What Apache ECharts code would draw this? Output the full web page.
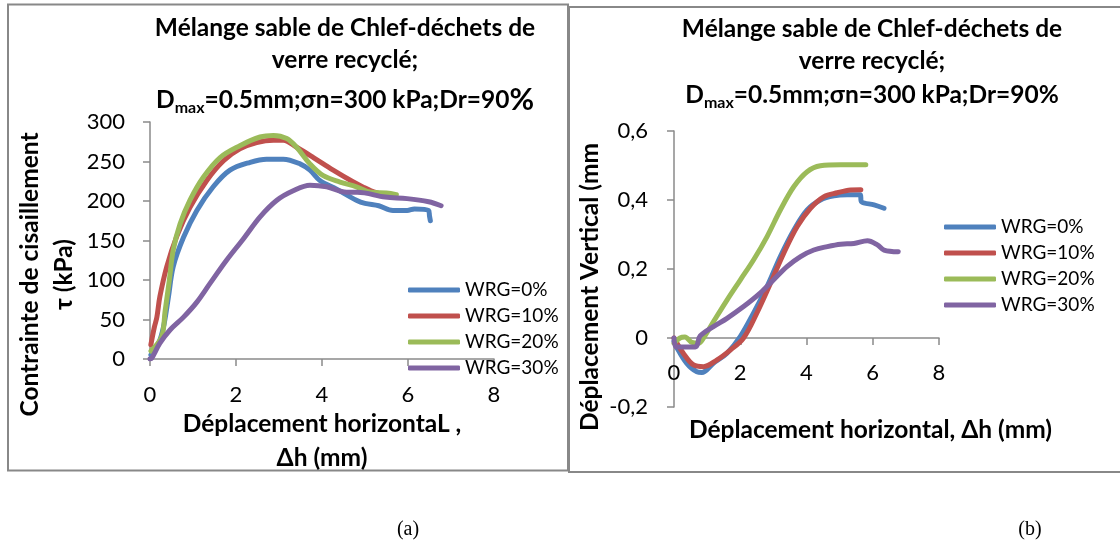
<!DOCTYPE html>
<html>
<head>
<meta charset="utf-8">
<script src="https://cdn.jsdelivr.net/npm/echarts@6/dist/echarts.min.js"></script>
<style>
html,body{margin:0;padding:0;background:#fff;}
#chart{width:1120px;height:546px;}
</style>
</head>
<body>
<div id="chart"></div>
<script>
// ---------- DATA ----------
const seriesNames = ['WRG=0%', 'WRG=10%', 'WRG=20%', 'WRG=30%'];
const xTicks = [0, 2, 4, 6, 8];
const tauTicks = [0, 50, 100, 150, 200, 250, 300];
const dvTicks = [-0.2, 0, 0.2, 0.4, 0.6];

// (a) shear stress tau (kPa) vs horizontal displacement (mm)
const tau_WRG0 = [[0.02,5],[0.08,7],[0.23,24],[0.33,45],[0.43,79],[0.54,117],[0.78,154],[1.09,188],[1.47,218],[1.86,239],[2.33,249],[2.71,253],[3.1,253],[3.49,247],[3.72,239],[3.95,226],[4.34,215],[4.8,201],[5.0,197],[5.32,194],[5.65,188],[5.98,188],[6.15,190],[6.48,188],[6.5,181],[6.52,175]];
const tau_WRG10 = [[0.02,18],[0.1,40],[0.16,53],[0.23,79],[0.39,117],[0.62,155],[0.93,192],[1.32,226],[1.71,251],[2.09,266],[2.48,274],[2.87,277],[3.1,277],[3.41,268],[3.8,255],[4.26,239],[4.73,224],[4.98,217],[5.14,213],[5.47,207]];
const tau_WRG20 = [[0.02,10],[0.27,28],[0.35,60],[0.45,100],[0.54,138],[0.7,171],[0.93,201],[1.24,230],[1.63,255],[2.09,270],[2.56,281],[2.87,283],[3.18,279],[3.41,268],[3.72,247],[4.03,232],[4.42,224],[4.8,218],[5.14,211],[5.5,210],[5.73,208]];
const tau_WRG30 = [[0,0],[0.04,1],[0.23,20],[0.47,37],[0.78,53],[1.09,72],[1.4,96],[1.78,125],[2.17,152],[2.56,180],[2.95,201],[3.33,213],[3.72,220],[4.11,218],[4.57,211],[4.82,211],[5.47,205],[5.98,203],[6.48,199],[6.77,194]];

// (b) vertical displacement (mm) vs horizontal displacement (mm)
const dv_WRG0 = [[0,-0.01],[0.07,-0.025],[0.38,-0.073],[0.69,-0.098],[0.84,-0.1],[1.19,-0.073],[1.6,-0.044],[2.0,0.004],[2.4,0.072],[2.81,0.149],[3.21,0.236],[3.62,0.313],[4.02,0.371],[4.42,0.4],[4.83,0.412],[5.23,0.415],[5.62,0.415],[5.66,0.395],[6.04,0.386],[6.34,0.376]];
const dv_WRG10 = [[0,0],[0.28,-0.044],[0.59,-0.078],[0.89,-0.083],[1.29,-0.064],[1.7,-0.035],[2.1,0.0],[2.5,0.072],[2.91,0.158],[3.31,0.245],[3.72,0.323],[4.12,0.376],[4.53,0.41],[4.93,0.421],[5.33,0.429],[5.64,0.43]];
const dv_WRG20 = [[0,-0.015],[0.18,0.0],[0.33,0.003],[0.54,-0.013],[0.74,-0.015],[0.89,0.0],[1.19,0.047],[1.6,0.11],[2.0,0.168],[2.4,0.226],[2.81,0.294],[3.21,0.371],[3.62,0.439],[4.02,0.482],[4.42,0.499],[5.03,0.502],[5.79,0.502]];
const dv_WRG30 = [[0,0],[0.08,-0.026],[0.59,-0.026],[0.69,-0.022],[0.79,0.006],[1.19,0.033],[1.6,0.057],[2.1,0.091],[2.6,0.13],[3.0,0.168],[3.41,0.207],[3.82,0.236],[4.22,0.255],[4.63,0.265],[5.03,0.272],[5.43,0.274],[5.84,0.282],[6.14,0.27],[6.34,0.255],[6.77,0.25]];

const tauData = [tau_WRG0, tau_WRG10, tau_WRG20, tau_WRG30];
const dvData = [dv_WRG0, dv_WRG10, dv_WRG20, dv_WRG30];

// ---------- STYLE ----------
const colors = ['#4F81BD', '#C0504D', '#9BBB59', '#8064A2'];
const FONT = 'Lato';
const axisGray = '#8a8a8a';
const NAME_SIZE = 24.5;

const chart = echarts.init(document.getElementById('chart'), null, {renderer: 'canvas'});

function commaFmt(v) { return String(Math.round(v * 10) / 10).replace('.', ','); }

const titleRich = {
  d: {fontSize: 24.5, fontWeight: 'bold', fontFamily: FONT, color: '#000', lineHeight: 32},
  m: {fontSize: 16, fontWeight: 'bold', fontFamily: FONT, color: '#000', lineHeight: 32, verticalAlign: 'bottom'},
  p: {fontSize: 30, fontWeight: 'bold', fontFamily: FONT, color: '#000', lineHeight: 32}
};
const titleStyle = {fontSize: 24.5, fontWeight: 'bold', fontFamily: FONT, color: '#000', lineHeight: 32, rich: titleRich};

function makeSeries(dataArr, idx) {
  return dataArr.map((d, i) => ({
    name: seriesNames[i], type: 'line', xAxisIndex: idx, yAxisIndex: idx,
    data: d, showSymbol: false, symbol: 'none', smooth: 0.35,
    lineStyle: {width: 5, color: colors[i], cap: 'round', join: 'round'},
    itemStyle: {color: colors[i]}, emphasis: {disabled: true}, animation: false
  }));
}

const axisCommon = {
  axisLine: {show: true, onZero: false, lineStyle: {color: axisGray, width: 1.5}},
  axisTick: {show: true, length: 7, lineStyle: {color: axisGray, width: 1.5}},
  splitLine: {show: false},
  axisLabel: {fontFamily: FONT, fontSize: 22, color: '#000'},
  nameTextStyle: {fontFamily: FONT, fontSize: NAME_SIZE, fontWeight: 'bold', color: '#000'}
};

const legendCommon = {
  orient: 'vertical', icon: 'roundRect', itemWidth: 52, itemHeight: 5, itemGap: 4,
  data: seriesNames, selectedMode: false,
  textStyle: {fontFamily: FONT, fontSize: 19, color: '#000', lineHeight: 22}
};

// grid geometry (b): y from -0.2 (bottom) to 0.6 (top); x axis drawn at y = 0
const gridB = {left: 674, top: 131, width: 265, height: 276};
const zeroOffsetB = -gridB.height * (0 - dvTicks[0]) / (dvTicks[dvTicks.length - 1] - dvTicks[0]);

const option = {
  backgroundColor: '#fff',
  animation: false,
  color: colors,
  title: [
    {text: 'Mélange sable de Chlef-déchets de\nverre recyclé;', left: 345, top: 12, textAlign: 'center', padding: 0, textStyle: titleStyle},
    {text: '{d|D}{m|max}{d|=0.5mm;σn=300 kPa;Dr=90}{p|%}', left: 345, top: 84, textAlign: 'center', padding: 0, textStyle: titleStyle},
    {text: 'Mélange sable de Chlef-déchets de\nverre recyclé;', left: 872, top: 13, textAlign: 'center', padding: 0, textStyle: titleStyle},
    {text: '{d|D}{m|max}{d|=0.5mm;σn=300 kPa;Dr=90%}', left: 872, top: 79, textAlign: 'center', padding: 0, textStyle: titleStyle}
  ],
  legend: [
    Object.assign({left: 403, top: 274}, legendCommon),
    Object.assign({left: 939, top: 211}, legendCommon)
  ],
  grid: [
    {left: 150, top: 122, width: 344, height: 237, containLabel: false},
    Object.assign({containLabel: false}, gridB)
  ],
  xAxis: [
    Object.assign({}, axisCommon, {
      gridIndex: 0, type: 'value', min: xTicks[0], max: xTicks[xTicks.length - 1], interval: 2,
      name: 'Déplacement horizontaL ,\nΔh (mm)', nameLocation: 'middle', nameGap: 42,
      nameTextStyle: Object.assign({}, axisCommon.nameTextStyle, {lineHeight: 34}),
      axisLabel: Object.assign({}, axisCommon.axisLabel, {margin: 25})
    }),
    Object.assign({}, axisCommon, {
      gridIndex: 1, type: 'value', min: xTicks[0], max: xTicks[xTicks.length - 1], interval: 2,
      position: 'bottom', offset: zeroOffsetB,
      name: 'Déplacement horizontal, Δh (mm)', nameLocation: 'middle', nameGap: 79,
      nameTextStyle: Object.assign({}, axisCommon.nameTextStyle, {lineHeight: 26, padding: [0, 0, 0, 128]}),
      axisLabel: Object.assign({}, axisCommon.axisLabel, {margin: 24})
    })
  ],
  yAxis: [
    Object.assign({}, axisCommon, {
      gridIndex: 0, type: 'value', min: tauTicks[0], max: tauTicks[tauTicks.length - 1], interval: 50,
      name: 'Contrainte de cisaillement\nτ (kPa)', nameLocation: 'middle', nameGap: 69,
      nameTextStyle: Object.assign({}, axisCommon.nameTextStyle, {lineHeight: 34, padding: [0, 68, 0, 0]}),
      axisLabel: Object.assign({}, axisCommon.axisLabel, {margin: 25})
    }),
    Object.assign({}, axisCommon, {
      gridIndex: 1, type: 'value', min: dvTicks[0], max: dvTicks[dvTicks.length - 1], interval: 0.2,
      name: 'Déplacement Vertical (mm', nameLocation: 'middle', nameGap: 71,
      nameTextStyle: Object.assign({}, axisCommon.nameTextStyle, {lineHeight: 26, padding: [0, 36, 0, 0]}),
      axisLabel: Object.assign({}, axisCommon.axisLabel, {margin: 26, formatter: commaFmt})
    })
  ],
  series: makeSeries(tauData, 0).concat(makeSeries(dvData, 1)),
  graphic: [
    {type: 'rect', silent: true, z: -1, shape: {x: 8, y: 4.5, width: 560, height: 466}, style: {fill: 'none', stroke: '#888', lineWidth: 2}},
    {type: 'rect', silent: true, z: -1, shape: {x: 569, y: 7, width: 560, height: 465}, style: {fill: 'none', stroke: '#888', lineWidth: 2}},
    {type: 'text', silent: true, style: {text: '(a)', x: 408, y: 530, align: 'center', verticalAlign: 'middle', font: '20px "Liberation Serif"', fill: '#000'}},
    {type: 'text', silent: true, style: {text: '(b)', x: 1030, y: 530, align: 'center', verticalAlign: 'middle', font: '20px "Liberation Serif"', fill: '#000'}}
  ]
};
chart.setOption(option);
</script>
</body>
</html>
